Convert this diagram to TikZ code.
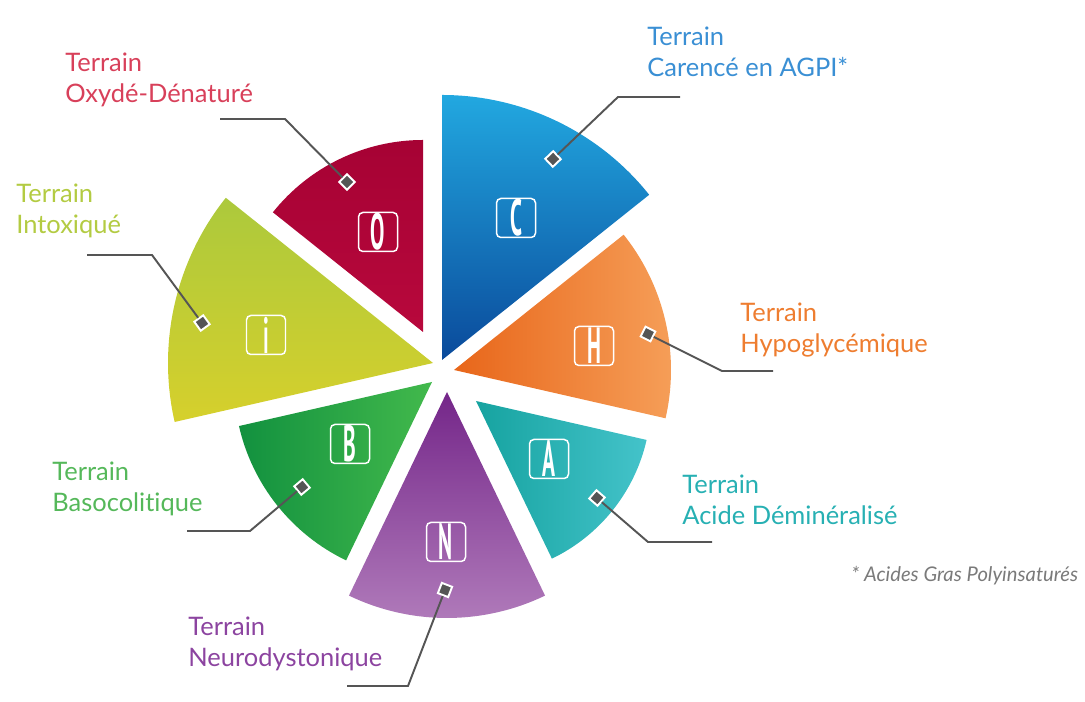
\documentclass[tikz,border=0pt]{standalone}
\usepackage{fontspec}
\setmainfont{Lato}[Ligatures=NoCommon]
\newfontfamily\letterfont{PT Sans}
\usepackage{tikz}

\definecolor{txtC}{HTML}{3A8FD4}
\definecolor{txtO}{HTML}{D8405A}
\definecolor{txtI}{HTML}{B3CB42}
\definecolor{txtB}{HTML}{55B85A}
\definecolor{txtN}{HTML}{8C44A0}
\definecolor{txtA}{HTML}{27B0B3}
\definecolor{txtH}{HTML}{EE7D30}
\definecolor{leadgray}{HTML}{555555}
\definecolor{notegray}{HTML}{7A7A7A}

\begin{document}
\begin{tikzpicture}[
		letterbox/.style={draw=white,line width=0.85pt,rounded corners=2.5pt,
			minimum size=0.78cm,inner sep=0,text=white,
			font=\letterfont\bfseries\fontsize{29}{29}\selectfont},
		sqmark/.style={rectangle,draw=white,fill=leadgray,line width=1.1pt,
			minimum size=0.22cm,inner sep=0},
		leader/.style={leadgray,line width=1.1pt},
		terrain/.style={inner sep=0,align=left,anchor=base west,
			font=\fontsize{14.5}{17.8}\selectfont}]
		
		\useasboundingbox (0,0) rectangle (21.7,14.04);
		
		% secteurs
		\shade[top color={rgb,255:red,34;green,168;blue,224},middle color={rgb,255:red,16;green,98;blue,178},bottom color={rgb,255:red,10;green,74;blue,155}]
		(8.84,6.84) -- ++(38.57:5.30) arc[start angle=38.57,end angle=90,radius=5.30] -- cycle;
		\shade[top color={rgb,255:red,166;green,2;blue,52},middle color={rgb,255:red,206;green,20;blue,70},bottom color={rgb,255:red,184;green,8;blue,60}]
		(8.46,7.40) -- ++(90:3.84) arc[start angle=90,end angle=141.43,radius=3.84] -- cycle;
		\shade[top color={rgb,255:red,172;green,201;blue,60},bottom color={rgb,255:red,214;green,208;blue,44}]
		(8.66,6.78) -- ++(141.43:5.30) arc[start angle=141.43,end angle=192.86,radius=5.30] -- cycle;
		\shade[left color={rgb,255:red,18;green,145;blue,63},right color={rgb,255:red,66;green,185;blue,76}]
		(8.64,6.40) -- ++(192.86:3.96) arc[start angle=192.86,end angle=244.29,radius=3.96] -- cycle;
		\shade[top color={rgb,255:red,116;green,38;blue,137},bottom color={rgb,255:red,177;green,124;blue,187}]
		(8.94,6.20) -- ++(244.29:4.52) arc[start angle=244.29,end angle=295.71,radius=4.52] -- cycle;
		\shade[left color={rgb,255:red,22;green,163;blue,160},right color={rgb,255:red,68;green,195;blue,202}]
		(9.52,6.02) -- ++(295.71:3.50) arc[start angle=295.71,end angle=347.14,radius=3.50] -- cycle;
		\shade[left color={rgb,255:red,232;green,102;blue,26},right color={rgb,255:red,246;green,160;blue,90}]
		(9.08,6.64) -- ++(-12.86:4.34) arc[start angle=-12.86,end angle=38.57,radius=4.34] -- cycle;
		
		% lettres
		\node[letterbox] (lC) at (10.32,9.68) {\scalebox{0.42}[1]{C}};
		\node[letterbox] (lH) at (11.88,7.12) {\scalebox{0.42}[1]{H}};
		\node[letterbox] (lO) at (7.56,9.40)  {\scalebox{0.42}[1]{O}};
		\node[letterbox] (lI) at (5.32,7.34)  {\scalebox{0.42}[1]{i}};
		\node[letterbox] (lB) at (7.00,5.16)  {\scalebox{0.42}[1]{B}};
		\node[letterbox] (lA) at (10.98,4.86) {\scalebox{0.42}[1]{A}};
		\node[letterbox] (lN) at (8.92,3.20)  {\scalebox{0.42}[1]{N}};
		
		% pastilles et coudes
		\node[sqmark,rotate=43.6] (mC) at (11.06,10.86) {};
		\node[sqmark,rotate=-26.6] (mH) at (12.96,7.36) {};
		\node[sqmark,rotate=44.5] (mO) at (6.94,10.40) {};
		\node[sqmark,rotate=36] (mI) at (4.04,7.58) {};
		\node[sqmark,rotate=40] (mB) at (6.04,4.30) {};
		\node[sqmark,rotate=-40.8] (mA) at (11.94,4.08) {};
		\node[sqmark,rotate=69] (mN) at (8.90,2.24) {};
		
		\coordinate (kC) at (12.36,12.10); \coordinate (eC) at (13.60,12.10);
		\coordinate (kH) at (14.44,6.62);  \coordinate (eH) at (15.46,6.62);
		\coordinate (kO) at (5.70,11.66);  \coordinate (eO) at (4.40,11.66);
		\coordinate (kI) at (3.04,8.94);   \coordinate (eI) at (1.74,8.94);
		\coordinate (kB) at (5.00,3.42);   \coordinate (eB) at (3.74,3.42);
		\coordinate (kA) at (12.96,3.20);  \coordinate (eA) at (14.24,3.20);
		\coordinate (kN) at (8.16,0.32);   \coordinate (eN) at (6.94,0.32);
		
		\draw[leader] (mC) -- (kC) -- (eC);
		\draw[leader] (mH) -- (kH) -- (eH);
		\draw[leader] (mO) -- (kO) -- (eO);
		\draw[leader] (mI) -- (kI) -- (eI);
		\draw[leader] (mB) -- (kB) -- (eB);
		\draw[leader] (mA) -- (kA) -- (eA);
		\draw[leader] (mN) -- (kN) -- (eN);
		
		% textes
		\node[terrain,text=txtC] (tC) at (12.94,12.50) {Terrain\\Carencé en AGPI*};
		\node[terrain,text=txtH] (tH) at (14.80,6.98)  {Terrain\\Hypoglycémique};
		\node[terrain,text=txtO] (tO) at (1.30,11.98)  {Terrain\\Oxydé-Dénaturé};
		\node[terrain,text=txtI] (tI) at (0.32,9.36)   {Terrain\\Intoxiqué};
		\node[terrain,text=txtB] (tB) at (1.04,3.80)   {Terrain\\Basocolitique};
		\node[terrain,text=txtA] (tA) at (13.64,3.54)  {Terrain\\Acide Déminéralisé};
		\node[terrain,text=txtN] (tN) at (3.76,0.70)   {Terrain\\Neurodystonique};
		\node[inner sep=0,anchor=base west,text=notegray,font=\itshape\fontsize{11.5}{13}\selectfont] (note) at (17.02,2.40) {* Acides Gras Polyinsaturés};
		
\end{tikzpicture}
\end{document}
